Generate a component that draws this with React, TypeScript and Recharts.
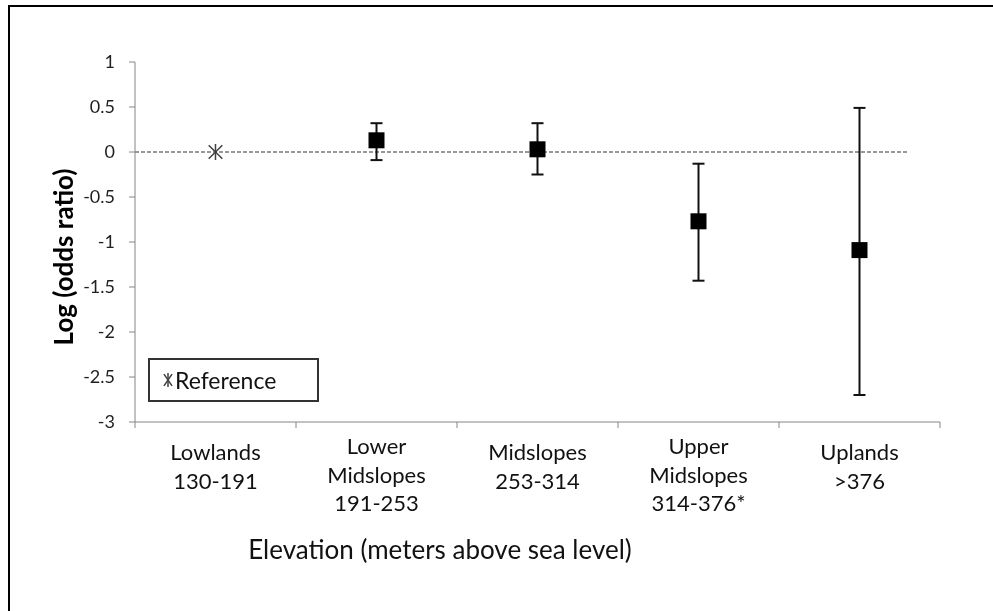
import React from "react"
import {
  ComposedChart,
  Scatter,
  ErrorBar,
  XAxis,
  YAxis,
  ReferenceLine,
  Legend,
  Label,
} from "recharts"

// elevation bands (x axis), one label line per entry
const categories: string[][] = [
  ["Lowlands", "130-191"],
  ["Lower", "Midslopes", "191-253"],
  ["Midslopes", "253-314"],
  ["Upper", "Midslopes", "314-376*"],
  ["Uplands", ">376"],
]

// log odds ratio and 95% CI
const logOdds = [0, 0.13, 0.03, -0.77, -1.09]
const ciLow = [0, -0.09, -0.25, -1.43, -2.7]
const ciHigh = [0, 0.32, 0.32, -0.13, 0.49]

const yTicks = [-3, -2.5, -2, -1.5, -1, -0.5, 0, 0.5, 1]
const xTicks = [0, 0.5, 1, 1.5, 2, 2.5, 3, 3.5, 4, 4.5, 5]

const FONT = "Lato, 'Liberation Sans', sans-serif"
const AXIS_GREY = "#868686"
const W = 985
const H = 603

const refData = [{ x: 0.5, y: logOdds[0] }]
const estData = logOdds.slice(1).map((v, i) => ({
  x: i + 1.5,
  y: v,
  err: [v - ciLow[i + 1], ciHigh[i + 1] - v],
}))

function Asterisk({ cx, cy, r = 8, dx }: { cx?: number; cy?: number; r?: number; dx?: number }) {
  if (cx == null || cy == null) return null
  const d = r * 0.85
  const w = dx ?? d
  return (
    <g stroke="#404040" strokeWidth={1.5}>
      <line x1={cx} y1={cy - r} x2={cx} y2={cy + r} />
      <line x1={cx - w} y1={cy - d} x2={cx + w} y2={cy + d} />
      <line x1={cx - w} y1={cy + d} x2={cx + w} y2={cy - d} />
    </g>
  )
}

function SquareMark({ cx, cy }: { cx?: number; cy?: number }) {
  if (cx == null || cy == null) return null
  return <rect x={cx - 8} y={cy - 8} width={16} height={16} fill="#000" />
}

function XTick({ x, y, payload }: any) {
  const v = payload.value as number
  if (Number.isInteger(v)) {
    return <line x1={x} y1={y} x2={x} y2={y + 6} stroke={AXIS_GREY} />
  }
  const lines = categories[Math.floor(v)]
  const start = lines.length === 3 ? 32 : 38
  return (
    <text x={x} y={y} textAnchor="middle" fontFamily={FONT} fontSize={22} fill="#111">
      {lines.map((l, i) => (
        <tspan key={i} x={x} y={y + start + i * 28.5}>
          {l}
        </tspan>
      ))}
    </text>
  )
}

function LegendBox({ payload }: any) {
  const items = (payload || []).filter((p: any) => p.value === "Reference")
  return (
    <div
      style={{
        boxSizing: "border-box",
        width: "100%",
        height: "100%",
        border: "2px solid #333",
        display: "flex",
        alignItems: "center",
        paddingLeft: 13,
        fontFamily: FONT,
        fontSize: 23,
        color: "#111",
      }}
    >
      {items.map((p: any) => (
        <span key={p.value} style={{ display: "flex", alignItems: "center" }}>
          <svg width={10} height={16} style={{ marginRight: 2 }}>
            <Asterisk cx={5} cy={8} r={7} dx={4} />
          </svg>
          {p.value}
        </span>
      ))}
    </div>
  )
}

export default function App() {
  return (
    <div style={{ width: W, height: H }}>
      <style>{"body{overflow:hidden}"}</style>
      {/* outer frame of the figure: only its top and left edges are in view */}
      <div
        style={{
          position: "fixed",
          left: 8,
          top: 5,
          width: W,
          height: 606,
          borderTop: "2.5px solid #000",
          borderLeft: "2.5px solid #000",
          boxSizing: "border-box",
          pointerEvents: "none",
        }}
      />
      <ComposedChart
        width={W}
        height={H}
        margin={{ top: 54, right: 53, left: 0, bottom: 159 }}
      >
        <XAxis
          type="number"
          dataKey="x"
          domain={[0, 5]}
          ticks={xTicks}
          interval={0}
          tickLine={false}
          tickSize={0}
          tickMargin={0}
          tick={<XTick />}
          height={30}
          stroke={AXIS_GREY}
          allowDataOverflow
        >
          <Label
            content={({ viewBox }: any) => (
              <text
                x={viewBox.x + 305}
                y={viewBox.y + 137}
                textAnchor="middle"
                fontFamily={FONT}
                fontSize={26}
                fill="#111"
              >
                Elevation (meters above sea level)
              </text>
            )}
          />
        </XAxis>
        <YAxis
          type="number"
          dataKey="y"
          domain={[-3, 1]}
          ticks={yTicks}
          interval={0}
          width={127}
          tickSize={6}
          tickMargin={14}
          stroke={AXIS_GREY}
          tick={{ fontFamily: FONT, fontSize: 18, fill: "#1f1f1f" }}
          allowDataOverflow
        >
          <Label
            content={({ viewBox }: any) => {
              const cx = viewBox.x + 55
              const cy = viewBox.y + viewBox.height / 2 + 15
              return (
                <text
                  x={cx}
                  y={cy}
                  transform={`rotate(-90 ${cx} ${cy})`}
                  textAnchor="middle"
                  dominantBaseline="central"
                  fontFamily={FONT}
                  fontSize={26}
                  fontWeight="bold"
                  fill="#000"
                >
                  Log (odds ratio)
                </text>
              )
            }}
          />
        </YAxis>
        <ReferenceLine
          segment={[
            { x: 0, y: 0 },
            { x: 4.8, y: 0 },
          ]}
          stroke="#333"
          strokeDasharray="4 2"
          ifOverflow="visible"
        />
        <Scatter
          name="Reference"
          data={refData}
          shape={<Asterisk />}
          isAnimationActive={false}
        />
        <Scatter
          name="Estimate"
          data={estData}
          shape={<SquareMark />}
          legendType="none"
          isAnimationActive={false}
        >
          <ErrorBar dataKey="err" direction="y" width={6} stroke="#111" strokeWidth={2} />
        </Scatter>
        <Legend
          layout="vertical"
          align="center"
          verticalAlign="middle"
          content={<LegendBox />}
          wrapperStyle={{ left: 140, top: 350, width: 171, height: 44 }}
        />
      </ComposedChart>
    </div>
  )
}
